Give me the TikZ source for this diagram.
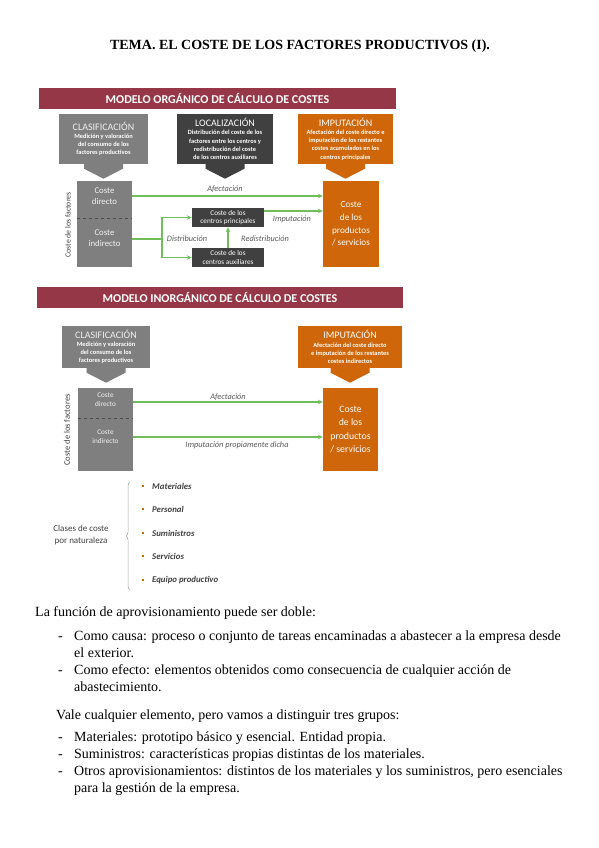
\documentclass[tikz,border=0pt]{standalone}
\usepackage{fontspec}
\setmainfont{Liberation Serif}
\newfontfamily\calfont{Carlito}
\usetikzlibrary{arrows.meta,decorations.pathreplacing,calc}
\definecolor{bannerc}{RGB}{149,55,70}
\definecolor{grayc}{RGB}{127,127,127}
\definecolor{dgrayc}{RGB}{64,64,64}
\definecolor{orngc}{RGB}{207,102,10}
\definecolor{grnc}{RGB}{112,190,90}
\definecolor{lblc}{RGB}{89,89,89}
\definecolor{txtc}{RGB}{64,64,64}
\newcommand\hdtitle[1]{{\mdseries\fontsize{10}{10.5}\selectfont #1}}
\newcommand\dnarrow[2]{%
  \fill[#2] ($(#1.south)+(-19.5,0)$) -- ++(39,0) -- ++(0,4.5) -- ($(#1.south)+(0,14.5)$) -- ($(#1.south)+(-19.5,4.5)$) -- cycle;}
\begin{document}
\begin{tikzpicture}[x=1pt,y=-1pt,
  bannerbox/.style={fill=bannerc, text=white, font=\calfont\bfseries\fontsize{12}{13}\selectfont, minimum height=21, inner sep=0},
  hdr/.style={minimum height=50, inner sep=0, align=center, text=white, font=\calfont\bfseries\fontsize{6.4}{8.2}\selectfont},
  colbox/.style={fill=grayc, minimum width=55, inner sep=0},
  coltext/.style={align=center, text=white!90!gray, inner sep=0, font=\calfont\fontsize{8.8}{11}\selectfont},
  prodbox/.style={fill=orngc, inner sep=0, align=center, text=white, font=\calfont\fontsize{9.2}{12.7}\selectfont},
  centro/.style={fill=dgrayc, minimum width=72, minimum height=19, inner sep=0, align=center, text=white, font=\calfont\fontsize{7.2}{8.2}\selectfont},
  garrow/.style={draw=grnc, line width=1.1pt, -{Stealth[length=5pt,width=4.5pt]}},
  gline/.style={draw=grnc, line width=1.1pt},
  lbl/.style={font=\calfont\itshape\fontsize{8.3}{9}\selectfont, text=lblc, inner sep=0},
  vlab/.style={rotate=90, font=\calfont\fontsize{7.8}{9}\selectfont, text=txtc, inner sep=0},
  bul/.style={fill=orngc, minimum size=2.8, inner sep=0},
  item/.style={anchor=west, inner sep=0, font=\calfont\bfseries\itshape\fontsize{8.8}{10}\selectfont, text=txtc},
  body/.style={anchor=base west, inner sep=0, font=\fontsize{14}{16}\selectfont}
]
\path[fill=white] (0,0) rectangle (599,848);
\useasboundingbox (0,0) rectangle (599,848);

% Title
\node[anchor=base, inner sep=0, font=\bfseries\fontsize{14}{16}\selectfont] (title) at (300,50) {TEMA. EL COSTE DE LOS FACTORES PRODUCTIVOS (I).};

% ---------- Diagram 1 ----------
\node[bannerbox, minimum width=357] (ban1) at (217.5,98.5) {MODELO ORGÁNICO DE CÁLCULO DE COSTES};

\node[hdr, fill=grayc, minimum width=89] (cla1) at (103.5,139) {\hdtitle{\color{white!88!gray}CLASIFICACIÓN}\\Medición y valoración\\del consumo de los\\factores productivos};
\dnarrow{cla1}{grayc}
\node[hdr, fill=dgrayc, minimum width=96] (loc1) at (225,139) {\hdtitle{LOCALIZACIÓN}\\Distribución del coste de los\\factores entre los centros y\\redistribución del coste\\de los centros auxiliares};
\dnarrow{loc1}{dgrayc}
\node[hdr, fill=orngc, minimum width=95] (imp1) at (345.5,139) {\hdtitle{IMPUTACIÓN}\\Afectación del coste directo e\\imputación de los restantes\\costes acumulados en los\\centros principales};
\dnarrow{imp1}{orngc}

\node[colbox, minimum height=37] (cd1) at (104.5,199.5) {};
\node[colbox, minimum height=49] (ci1) at (104.5,242.5) {};
\draw[dgrayc!80!gray, dashed, line width=0.6pt] (cd1.south west) -- (cd1.south east);
\node[coltext] (cd1t) at (104.5,196) {Coste\\directo};
\node[coltext] (ci1t) at (104.5,238) {Coste\\indirecto};
\node[vlab] (vf1) at (68,225) {Coste de los factores};

\node[prodbox, minimum width=56, minimum height=86] (prod1) at (351,224) {Coste\\de los\\productos\\/ servicios};

\node[centro] (pr1) at (228,217.5) {Coste de los\\centros principales};
\node[centro] (aux1) at (228,257.5) {Coste de los\\centros auxiliares};

\draw[garrow] (cd1.east |- 0,196) -- (prod1.west |- 0,196);
\node[lbl] (l1a) at (225,189) {Afectación};
\draw[garrow] (pr1.east |- 0,211) -- (prod1.west |- 0,211);
\node[lbl] (l1b) at (292,219) {Imputación};
\coordinate (dj1) at (162,239);
\draw[gline] (ci1.east |- dj1) -- (dj1);
\draw[garrow] (dj1) |- (pr1.west);
\draw[garrow] (dj1) |- (aux1.west);
\node[lbl] (l1c) at (187,239) {Distribución};
\draw[garrow] (aux1.north) -- (pr1.south);
\node[lbl] (l1d) at (265,239) {Redistribución};

% ---------- Diagram 2 ----------
\node[bannerbox, minimum width=366] (ban2) at (220,297.5) {MODELO INORGÁNICO DE CÁLCULO DE COSTES};

\node[hdr, minimum height=42, fill=grayc, minimum width=88] (cla2) at (106,347) {\hdtitle{\color{white!88!gray}CLASIFICACIÓN}\\Medición y valoración\\del consumo de los\\factores productivos};
\dnarrow{cla2}{grayc}
\node[hdr, minimum height=42, fill=orngc, minimum width=104] (imp2) at (350,347) {\hdtitle{IMPUTACIÓN}\\Afectación del coste directo\\e imputación de los restantes\\costes indirectos};
\dnarrow{imp2}{orngc}

\node[colbox, minimum height=30] (cd2) at (105.5,403) {};
\node[colbox, minimum height=53] (ci2) at (105.5,444.5) {};
\draw[dgrayc!80!gray, dashed, line width=0.6pt] (cd2.south west) -- (cd2.south east);
\node[coltext, font=\calfont\fontsize{7.2}{9}\selectfont] (cd2t) at (105.5,400) {Coste\\directo};
\node[coltext, font=\calfont\fontsize{7.2}{9}\selectfont] (ci2t) at (105.5,437) {Coste\\indirecto};
\node[vlab, font=\calfont\fontsize{8.5}{9}\selectfont] (vf2) at (67,430) {Coste de los factores};

\node[prodbox, minimum width=55, minimum height=83, font=\calfont\fontsize{9.8}{13.5}\selectfont] (prod2) at (350.5,429.5) {Coste\\de los\\productos\\/ servicios};

\draw[garrow] (cd2.east |- 0,402) -- (prod2.west |- 0,402);
\node[lbl] (l2a) at (228,397) {Afectación};
\draw[garrow] (ci2.east |- 0,437) -- (prod2.west |- 0,437);
\node[lbl] (l2b) at (237,445) {Imputación propiamente dicha};

% ---------- Clases ----------
\node[align=center, inner sep=0, text=txtc, font=\calfont\fontsize{9}{12}\selectfont] (clases) at (81,535) {Clases de coste\\por naturaleza};
\coordinate (brb) at (130,590);
\coordinate (brt) at (130,482);
\draw[gray!70, line width=0.5pt, decorate, decoration={brace, amplitude=4pt}] (brb) -- (brt);
\node[bul] (b1) at (143,486) {};
\node[item] (i1) at (152,486) {Materiales};
\node[bul] (b2) at (143,509) {};
\node[item] (i2) at (152,509) {Personal};
\node[bul] (b3) at (143,533) {};
\node[item] (i3) at (152,533) {Suministros};
\node[bul] (b4) at (143,556) {};
\node[item] (i4) at (152,556) {Servicios};
\node[bul] (b5) at (143,580) {};
\node[item] (i5) at (152,580) {Equipo productivo};

% ---------- Body text ----------
\node[body] (t1) at (35,616) {La función de aprovisionamiento puede ser doble:};
\node[body] (d1) at (58,640) {-};
\node[body] (t2) at (74,640) {Como causa: proceso o conjunto de tareas encaminadas a abastecer a la empresa desde};
\node[body] (t3) at (74,657) {el exterior.};
\node[body] (d2) at (58,674) {-};
\node[body] (t4) at (74,674) {Como efecto: elementos obtenidos como consecuencia de cualquier acción de};
\node[body] (t5) at (74,691) {abastecimiento.};
\node[body] (t6) at (56,719) {Vale cualquier elemento, pero vamos a distinguir tres grupos:};
\node[body] (d3) at (58,741) {-};
\node[body] (t7) at (74,741) {Materiales: prototipo básico y esencial. Entidad propia.};
\node[body] (d4) at (58,758) {-};
\node[body] (t8) at (74,758) {Suministros: características propias distintas de los materiales.};
\node[body] (d5) at (58,775) {-};
\node[body] (t9) at (74,775) {Otros aprovisionamientos: distintos de los materiales y los suministros, pero esenciales};
\node[body] (t10) at (74,792) {para la gestión de la empresa.};
\end{tikzpicture}
\end{document}
